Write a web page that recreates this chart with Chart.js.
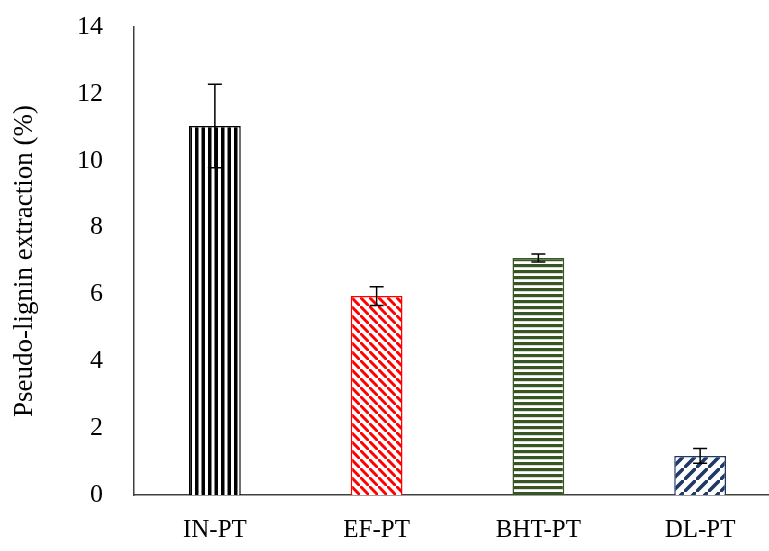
<!DOCTYPE html>
<html>
<head>
<meta charset="utf-8">
<script src="https://cdn.jsdelivr.net/npm/chart.js@4/dist/chart.umd.min.js"></script>
<style>
html,body{margin:0;padding:0;background:#fff;overflow:hidden;}
#wrap{width:769px;height:551px;position:relative;overflow:hidden;}
</style>
</head>
<body>
<div id="wrap"><canvas id="c" width="800" height="551"></canvas></div>
<script>
const categories = ['IN-PT', 'EF-PT', 'BHT-PT', 'DL-PT'];
const values = [11.04, 5.95, 7.09, 1.17];
const errors = [1.25, 0.28, 0.12, 0.22];
const colors = ['#000000', '#ff0000', '#375623', '#1f3864'];
const patternKinds = ['vertical', 'backslash', 'horizontal', 'slash'];
const yTicks = [0, 2, 4, 6, 8, 10, 12, 14];

function makePattern(kind, color) {
  const c = document.createElement('canvas');
  const ctx = c.getContext('2d');
  let s;
  if (kind === 'vertical') {
    c.width = 13; c.height = 13;
    ctx.fillStyle = '#fff'; ctx.fillRect(0,0,13,13);
    ctx.fillStyle = color; ctx.fillRect(0,0,3.5,13); ctx.fillRect(6.5,0,3.5,13);
  } else if (kind === 'horizontal') {
    s = 6; c.width = s; c.height = s;
    ctx.fillStyle = '#fff'; ctx.fillRect(0,0,s,s);
    ctx.fillStyle = color; ctx.fillRect(0,0,s,3.2);
  } else {
    s = kind === 'slash' ? 12 : 9; c.width = s; c.height = s;
    ctx.fillStyle = '#fff'; ctx.fillRect(0,0,s,s);
    ctx.strokeStyle = color; ctx.lineWidth = kind === 'slash' ? 3.6 : 3;
    ctx.beginPath();
    if (kind === 'slash') {
      ctx.moveTo(-s, s*2); ctx.lineTo(s*2, -s);
      ctx.moveTo(-s*2, s); ctx.lineTo(s, -s*2);
      ctx.moveTo(0, s*3); ctx.lineTo(s*3, 0);
    } else {
      ctx.moveTo(-s, -s); ctx.lineTo(s*2, s*2);
      ctx.moveTo(-s*2, 0); ctx.lineTo(s, s*3);
      ctx.moveTo(0, -s*2); ctx.lineTo(s*3, s);
    }
    ctx.stroke();
  }
  return ctx.createPattern(c, 'repeat');
}

const fills = patternKinds.map((k, i) => makePattern(k, colors[i]));

const errorBarPlugin = {
  id: 'errorBars',
  afterDatasetsDraw(chart) {
    const ctx = chart.ctx;
    const meta = chart.getDatasetMeta(0);
    const y = chart.scales.y;
    ctx.save();
    ctx.strokeStyle = '#000';
    ctx.lineWidth = 1.5;
    meta.data.forEach((bar, i) => {
      const x = bar.x;
      const yTop = y.getPixelForValue(values[i] + errors[i]);
      const yBot = y.getPixelForValue(values[i] - errors[i]);
      const cap = 7;
      ctx.beginPath();
      ctx.moveTo(x, yTop); ctx.lineTo(x, yBot);
      ctx.moveTo(x - cap, yTop); ctx.lineTo(x + cap, yTop);
      ctx.moveTo(x - cap, yBot); ctx.lineTo(x + cap, yBot);
      ctx.stroke();
    });
    ctx.restore();
  }
};

new Chart(document.getElementById('c'), {
  type: 'bar',
  data: {
    labels: categories,
    datasets: [{
      data: values,
      backgroundColor: fills,
      borderColor: colors,
      borderWidth: 1.5,
      categoryPercentage: 1.0,
      barPercentage: 0.32
    }]
  },
  options: {
    responsive: false,
    animation: false,
    layout: { padding: { left: 0, right: 19, top: 27, bottom: 0 } },
    plugins: { legend: { display: false }, tooltip: { enabled: false } },
    scales: {
      x: {
        grid: { display: false, drawTicks: false },
        border: { display: true, color: '#404040', width: 1.5 },
        ticks: { color: '#000', font: { family: 'Liberation Serif', size: 25 }, padding: 20 },
        afterFit(scale) { scale.height = 56; scale.paddingLeft = 0; scale.paddingRight = 0; }
      },
      y: {
        min: 0, max: 14,
        afterBuildTicks(scale) { scale.ticks = yTicks.map(v => ({ value: v })); },
        grid: { display: false, drawTicks: false },
        border: { display: true, color: '#404040', width: 1.5 },
        ticks: { color: '#000', font: { family: 'Liberation Serif', size: 26 }, padding: 31 },
        title: { display: true, text: 'Pseudo-lignin extraction (%)', color: '#000', font: { family: 'Liberation Serif', size: 27 }, padding: { top: 9, bottom: 8 } },
        afterFit(scale) { scale.width = 134; scale.paddingTop = 0; scale.paddingBottom = 0; }
      }
    }
  },
  plugins: [errorBarPlugin]
});
</script>
</body>
</html>
